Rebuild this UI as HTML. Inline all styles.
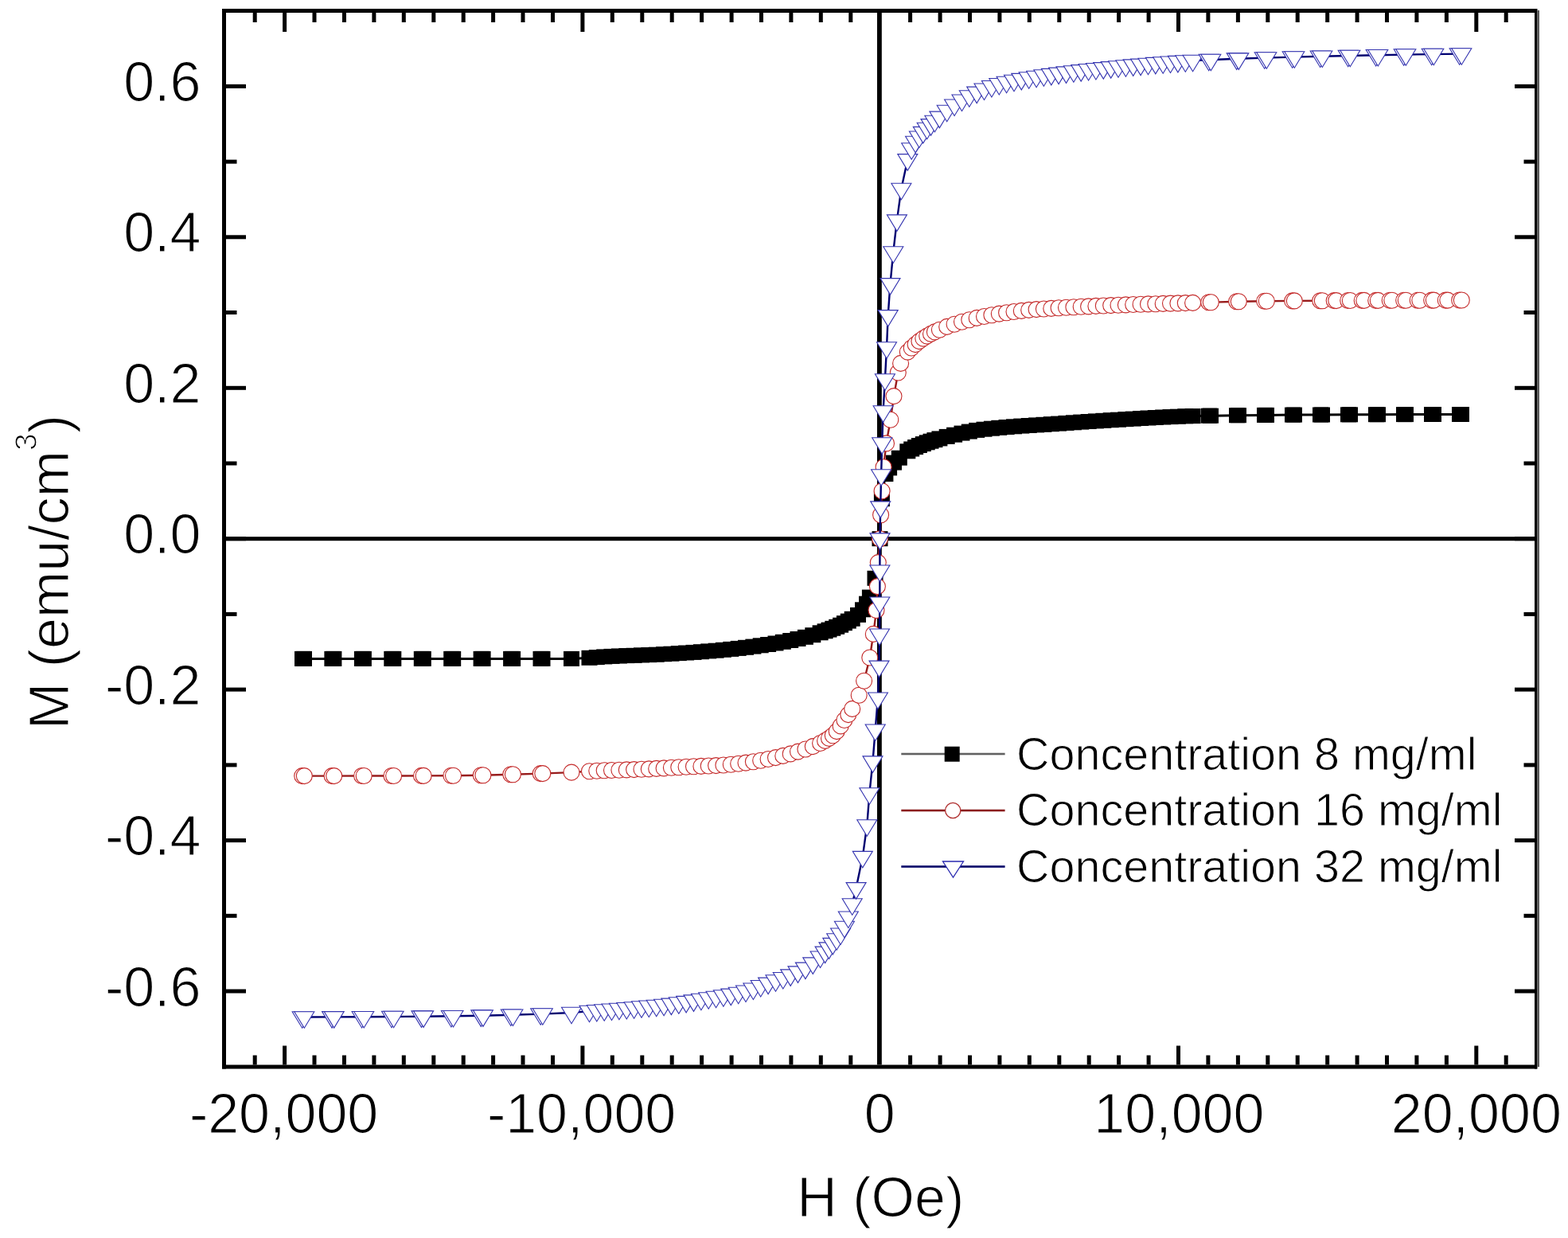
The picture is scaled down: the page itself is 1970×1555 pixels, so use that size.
<!DOCTYPE html>
<html><head><meta charset="utf-8"><style>html,body{margin:0;padding:0;background:#fff;overflow:hidden}svg{display:block}</style></head>
<body><svg width="1970" height="1555" viewBox="0 0 1970 1555">
<rect width="1970" height="1555" fill="#fff"/>
<rect x="284" y="674.2" width="1644" height="5" fill="#000"/>
<rect x="1102" y="16" width="5.8" height="1321.5" fill="#000"/>
<path d="M381.0,827.4 L418.4,827.4 L455.9,827.4 L493.3,827.4 L530.8,827.4 L568.2,827.4 L605.6,827.4 L643.1,827.4 L680.5,827.4 L718.0,827.4 L740.5,826.3 L749.8,825.6 L759.2,824.9 L768.5,824.4 L777.9,824.0 L787.3,823.6 L796.6,823.3 L806.0,822.9 L815.3,822.6 L824.7,822.2 L834.1,821.7 L843.4,821.2 L852.8,820.6 L862.1,820.0 L871.5,819.4 L880.9,818.7 L890.2,817.9 L899.6,817.2 L908.9,816.3 L918.3,815.4 L927.7,814.4 L937.0,813.3 L946.4,812.1 L955.7,810.8 L965.1,809.5 L974.5,808.0 L983.8,806.3 L993.2,804.5 L1002.5,802.5 L1011.9,800.3 L1021.3,797.7 L1030.6,794.8 L1036.6,792.8 L1041.5,791.1 L1046.3,789.3 L1051.2,787.3 L1056.1,785.2 L1060.9,782.7 L1065.8,780.1 L1070.7,777.3 L1078.0,772.4 L1084.0,765.8 L1089.0,758.2 L1092.9,750.1 L1099.5,726.3 L1105.5,676.7 L1107.9,626.7 L1112.4,595.5 L1117.1,587.9 L1123.0,581.1 L1129.8,575.2 L1140.3,566.8 L1145.2,564.0 L1150.1,561.6 L1154.9,559.5 L1159.8,557.6 L1164.7,555.8 L1169.5,554.2 L1174.4,552.6 L1180.4,550.9 L1189.7,548.4 L1199.1,546.2 L1208.5,544.1 L1217.8,542.1 L1227.2,540.4 L1236.5,539.2 L1245.9,538.2 L1255.3,537.3 L1264.6,536.5 L1274.0,535.8 L1283.3,535.1 L1292.7,534.5 L1302.1,533.9 L1311.4,533.3 L1320.8,532.7 L1330.1,532.1 L1339.5,531.4 L1348.9,530.8 L1358.2,530.1 L1367.6,529.5 L1376.9,528.9 L1386.3,528.3 L1395.7,527.7 L1405.0,527.2 L1414.4,526.6 L1423.7,526.1 L1433.1,525.5 L1442.5,525.0 L1451.8,524.5 L1461.2,524.0 L1470.5,523.6 L1479.9,523.2 L1489.3,522.8 L1498.6,522.6 L1520.0,522.2 L1555.0,521.7 L1590.0,521.4 L1625.0,521.1 L1660.0,521.0 L1695.0,520.8 L1730.0,520.7 L1765.0,520.6 L1800.0,520.5 L1835.0,520.5" fill="none" stroke="#000" stroke-width="3" stroke-linejoin="round"/>
<g fill="#000"><rect x="370.0" y="817.9" width="20" height="19"/><rect x="372.0" y="817.9" width="20" height="19"/><rect x="407.4" y="817.9" width="20" height="19"/><rect x="409.4" y="817.9" width="20" height="19"/><rect x="444.9" y="817.9" width="20" height="19"/><rect x="446.9" y="817.9" width="20" height="19"/><rect x="482.3" y="817.9" width="20" height="19"/><rect x="484.3" y="817.9" width="20" height="19"/><rect x="519.8" y="817.9" width="20" height="19"/><rect x="521.8" y="817.9" width="20" height="19"/><rect x="557.2" y="817.9" width="20" height="19"/><rect x="559.2" y="817.9" width="20" height="19"/><rect x="594.6" y="817.9" width="20" height="19"/><rect x="596.6" y="817.9" width="20" height="19"/><rect x="632.1" y="817.9" width="20" height="19"/><rect x="634.1" y="817.9" width="20" height="19"/><rect x="669.5" y="817.9" width="20" height="19"/><rect x="671.5" y="817.9" width="20" height="19"/><rect x="708.0" y="817.9" width="20" height="19"/><rect x="730.5" y="816.8" width="20" height="19"/><rect x="739.8" y="816.1" width="20" height="19"/><rect x="749.2" y="815.4" width="20" height="19"/><rect x="758.5" y="814.9" width="20" height="19"/><rect x="767.9" y="814.5" width="20" height="19"/><rect x="777.3" y="814.1" width="20" height="19"/><rect x="786.6" y="813.8" width="20" height="19"/><rect x="796.0" y="813.4" width="20" height="19"/><rect x="805.3" y="813.1" width="20" height="19"/><rect x="814.7" y="812.7" width="20" height="19"/><rect x="824.1" y="812.2" width="20" height="19"/><rect x="833.4" y="811.7" width="20" height="19"/><rect x="842.8" y="811.1" width="20" height="19"/><rect x="852.1" y="810.5" width="20" height="19"/><rect x="861.5" y="809.9" width="20" height="19"/><rect x="870.9" y="809.2" width="20" height="19"/><rect x="880.2" y="808.4" width="20" height="19"/><rect x="889.6" y="807.7" width="20" height="19"/><rect x="898.9" y="806.8" width="20" height="19"/><rect x="908.3" y="805.9" width="20" height="19"/><rect x="917.7" y="804.9" width="20" height="19"/><rect x="927.0" y="803.8" width="20" height="19"/><rect x="936.4" y="802.6" width="20" height="19"/><rect x="945.7" y="801.3" width="20" height="19"/><rect x="955.1" y="800.0" width="20" height="19"/><rect x="964.5" y="798.5" width="20" height="19"/><rect x="973.8" y="796.8" width="20" height="19"/><rect x="983.2" y="795.0" width="20" height="19"/><rect x="992.5" y="793.0" width="20" height="19"/><rect x="1001.9" y="790.8" width="20" height="19"/><rect x="1011.3" y="788.2" width="20" height="19"/><rect x="1020.6" y="785.3" width="20" height="19"/><rect x="1026.6" y="783.3" width="20" height="19"/><rect x="1031.5" y="781.6" width="20" height="19"/><rect x="1036.3" y="779.8" width="20" height="19"/><rect x="1041.2" y="777.8" width="20" height="19"/><rect x="1046.1" y="775.7" width="20" height="19"/><rect x="1050.9" y="773.2" width="20" height="19"/><rect x="1055.8" y="770.6" width="20" height="19"/><rect x="1060.7" y="767.8" width="20" height="19"/><rect x="1068.0" y="762.9" width="20" height="19"/><rect x="1074.0" y="756.3" width="20" height="19"/><rect x="1079.0" y="748.7" width="20" height="19"/><rect x="1082.9" y="740.6" width="20" height="19"/><rect x="1089.5" y="716.8" width="20" height="19"/><rect x="1095.5" y="667.2" width="20" height="19"/><rect x="1097.9" y="617.2" width="20" height="19"/><rect x="1102.4" y="586.0" width="20" height="19"/><rect x="1107.1" y="578.4" width="20" height="19"/><rect x="1113.0" y="571.6" width="20" height="19"/><rect x="1119.8" y="565.7" width="20" height="19"/><rect x="1130.3" y="557.3" width="20" height="19"/><rect x="1135.2" y="554.5" width="20" height="19"/><rect x="1140.1" y="552.1" width="20" height="19"/><rect x="1144.9" y="550.0" width="20" height="19"/><rect x="1149.8" y="548.1" width="20" height="19"/><rect x="1154.7" y="546.3" width="20" height="19"/><rect x="1159.5" y="544.7" width="20" height="19"/><rect x="1164.4" y="543.1" width="20" height="19"/><rect x="1170.4" y="541.4" width="20" height="19"/><rect x="1179.7" y="538.9" width="20" height="19"/><rect x="1189.1" y="536.7" width="20" height="19"/><rect x="1198.5" y="534.6" width="20" height="19"/><rect x="1207.8" y="532.6" width="20" height="19"/><rect x="1217.2" y="530.9" width="20" height="19"/><rect x="1226.5" y="529.7" width="20" height="19"/><rect x="1235.9" y="528.7" width="20" height="19"/><rect x="1245.3" y="527.8" width="20" height="19"/><rect x="1254.6" y="527.0" width="20" height="19"/><rect x="1264.0" y="526.3" width="20" height="19"/><rect x="1273.3" y="525.6" width="20" height="19"/><rect x="1282.7" y="525.0" width="20" height="19"/><rect x="1292.1" y="524.4" width="20" height="19"/><rect x="1301.4" y="523.8" width="20" height="19"/><rect x="1310.8" y="523.2" width="20" height="19"/><rect x="1320.1" y="522.6" width="20" height="19"/><rect x="1329.5" y="521.9" width="20" height="19"/><rect x="1338.9" y="521.3" width="20" height="19"/><rect x="1348.2" y="520.6" width="20" height="19"/><rect x="1357.6" y="520.0" width="20" height="19"/><rect x="1366.9" y="519.4" width="20" height="19"/><rect x="1376.3" y="518.8" width="20" height="19"/><rect x="1385.7" y="518.2" width="20" height="19"/><rect x="1395.0" y="517.7" width="20" height="19"/><rect x="1404.4" y="517.1" width="20" height="19"/><rect x="1413.7" y="516.6" width="20" height="19"/><rect x="1423.1" y="516.0" width="20" height="19"/><rect x="1432.5" y="515.5" width="20" height="19"/><rect x="1441.8" y="515.0" width="20" height="19"/><rect x="1451.2" y="514.5" width="20" height="19"/><rect x="1460.5" y="514.1" width="20" height="19"/><rect x="1469.9" y="513.7" width="20" height="19"/><rect x="1479.3" y="513.3" width="20" height="19"/><rect x="1488.6" y="513.1" width="20" height="19"/><rect x="1509.0" y="512.7" width="20" height="19"/><rect x="1511.0" y="512.7" width="20" height="19"/><rect x="1544.0" y="512.2" width="20" height="19"/><rect x="1546.0" y="512.2" width="20" height="19"/><rect x="1579.0" y="511.9" width="20" height="19"/><rect x="1581.0" y="511.9" width="20" height="19"/><rect x="1614.0" y="511.6" width="20" height="19"/><rect x="1616.0" y="511.6" width="20" height="19"/><rect x="1649.0" y="511.5" width="20" height="19"/><rect x="1651.0" y="511.5" width="20" height="19"/><rect x="1684.0" y="511.3" width="20" height="19"/><rect x="1686.0" y="511.3" width="20" height="19"/><rect x="1719.0" y="511.2" width="20" height="19"/><rect x="1721.0" y="511.2" width="20" height="19"/><rect x="1754.0" y="511.1" width="20" height="19"/><rect x="1756.0" y="511.1" width="20" height="19"/><rect x="1789.0" y="511.0" width="20" height="19"/><rect x="1791.0" y="511.0" width="20" height="19"/><rect x="1824.0" y="511.0" width="20" height="19"/><rect x="1826.0" y="511.0" width="20" height="19"/></g>
<path d="M381.0,974.6 L418.4,974.6 L455.9,974.5 L493.3,974.5 L530.8,974.4 L568.2,974.2 L605.6,973.7 L643.1,972.7 L680.5,971.6 L718.0,970.1 L740.5,968.8 L749.8,968.3 L759.2,967.8 L768.5,967.5 L777.9,967.2 L787.3,966.9 L796.6,966.6 L806.0,966.3 L815.3,965.9 L824.7,965.4 L834.1,964.9 L843.4,964.3 L852.8,963.7 L862.1,963.2 L871.5,962.8 L880.9,962.4 L890.2,962.0 L899.6,961.6 L908.9,961.0 L918.3,960.3 L927.7,959.3 L937.0,958.1 L946.4,956.7 L955.7,955.2 L965.1,953.5 L974.5,951.6 L983.8,949.4 L993.2,946.9 L1002.5,944.1 L1011.9,941.0 L1021.3,937.6 L1030.6,933.5 L1036.6,930.4 L1041.5,927.4 L1046.3,923.7 L1051.2,918.6 L1056.1,911.9 L1060.9,904.5 L1065.8,897.6 L1070.7,890.4 L1079.2,873.3 L1085.6,855.2 L1092.8,826.0 L1097.3,796.4 L1101.0,766.6 L1102.4,736.6 L1103.3,706.6 L1105.5,676.7 L1106.6,646.7 L1108.1,616.7 L1110.1,586.7 L1113.5,556.9 L1118.8,527.3 L1123.0,497.6 L1128.3,468.0 L1131.6,456.4 L1140.3,442.1 L1145.2,437.0 L1150.1,432.6 L1154.9,428.6 L1159.8,425.1 L1164.7,422.1 L1169.5,419.4 L1174.4,416.9 L1180.4,414.2 L1189.7,410.4 L1199.1,407.2 L1208.5,404.2 L1217.8,401.7 L1227.2,399.4 L1236.5,397.5 L1245.9,395.7 L1255.3,394.1 L1264.6,392.7 L1274.0,391.5 L1283.3,390.4 L1292.7,389.4 L1302.1,388.6 L1311.4,388.0 L1320.8,387.4 L1330.1,386.8 L1339.5,386.3 L1348.9,385.8 L1358.2,385.3 L1367.6,384.9 L1376.9,384.4 L1386.3,384.0 L1395.7,383.6 L1405.0,383.2 L1414.4,382.9 L1423.7,382.5 L1433.1,382.2 L1442.5,381.9 L1451.8,381.7 L1461.2,381.4 L1470.5,381.1 L1479.9,380.9 L1489.3,380.6 L1498.6,380.4 L1520.0,379.7 L1555.0,378.7 L1590.0,378.2 L1625.0,377.9 L1660.0,377.7 L1677.5,377.6 L1695.0,377.5 L1712.5,377.4 L1730.0,377.4 L1747.5,377.3 L1765.0,377.2 L1782.5,377.2 L1800.0,377.1 L1817.5,377.1 L1835.0,377.0" fill="none" stroke="#981c1c" stroke-width="2.4" stroke-linejoin="round"/>
<g fill="#fff" stroke="#c42a2a" stroke-width="1.1"><circle cx="379.7" cy="974.6" r="10"/><circle cx="382.3" cy="974.6" r="10"/><circle cx="417.1" cy="974.6" r="10"/><circle cx="419.7" cy="974.6" r="10"/><circle cx="454.6" cy="974.5" r="10"/><circle cx="457.2" cy="974.5" r="10"/><circle cx="492.0" cy="974.5" r="10"/><circle cx="494.6" cy="974.5" r="10"/><circle cx="529.5" cy="974.4" r="10"/><circle cx="532.1" cy="974.4" r="10"/><circle cx="566.9" cy="974.2" r="10"/><circle cx="569.5" cy="974.2" r="10"/><circle cx="604.3" cy="973.7" r="10"/><circle cx="606.9" cy="973.7" r="10"/><circle cx="641.8" cy="972.7" r="10"/><circle cx="644.4" cy="972.7" r="10"/><circle cx="679.2" cy="971.6" r="10"/><circle cx="681.8" cy="971.6" r="10"/><circle cx="718.0" cy="970.1" r="10"/><circle cx="740.5" cy="968.8" r="10"/><circle cx="749.8" cy="968.3" r="10"/><circle cx="759.2" cy="967.8" r="10"/><circle cx="768.5" cy="967.5" r="10"/><circle cx="777.9" cy="967.2" r="10"/><circle cx="787.3" cy="966.9" r="10"/><circle cx="796.6" cy="966.6" r="10"/><circle cx="806.0" cy="966.3" r="10"/><circle cx="815.3" cy="965.9" r="10"/><circle cx="824.7" cy="965.4" r="10"/><circle cx="834.1" cy="964.9" r="10"/><circle cx="843.4" cy="964.3" r="10"/><circle cx="852.8" cy="963.7" r="10"/><circle cx="862.1" cy="963.2" r="10"/><circle cx="871.5" cy="962.8" r="10"/><circle cx="880.9" cy="962.4" r="10"/><circle cx="890.2" cy="962.0" r="10"/><circle cx="899.6" cy="961.6" r="10"/><circle cx="908.9" cy="961.0" r="10"/><circle cx="918.3" cy="960.3" r="10"/><circle cx="927.7" cy="959.3" r="10"/><circle cx="937.0" cy="958.1" r="10"/><circle cx="946.4" cy="956.7" r="10"/><circle cx="955.7" cy="955.2" r="10"/><circle cx="965.1" cy="953.5" r="10"/><circle cx="974.5" cy="951.6" r="10"/><circle cx="983.8" cy="949.4" r="10"/><circle cx="993.2" cy="946.9" r="10"/><circle cx="1002.5" cy="944.1" r="10"/><circle cx="1011.9" cy="941.0" r="10"/><circle cx="1021.3" cy="937.6" r="10"/><circle cx="1030.6" cy="933.5" r="10"/><circle cx="1036.6" cy="930.4" r="10"/><circle cx="1041.5" cy="927.4" r="10"/><circle cx="1046.3" cy="923.7" r="10"/><circle cx="1051.2" cy="918.6" r="10"/><circle cx="1056.1" cy="911.9" r="10"/><circle cx="1060.9" cy="904.5" r="10"/><circle cx="1065.8" cy="897.6" r="10"/><circle cx="1070.7" cy="890.4" r="10"/><circle cx="1079.2" cy="873.3" r="10"/><circle cx="1085.6" cy="855.2" r="10"/><circle cx="1092.8" cy="826.0" r="10"/><circle cx="1097.3" cy="796.4" r="10"/><circle cx="1101.0" cy="766.6" r="10"/><circle cx="1102.4" cy="736.6" r="10"/><circle cx="1103.3" cy="706.6" r="10"/><circle cx="1105.5" cy="676.7" r="10"/><circle cx="1106.6" cy="646.7" r="10"/><circle cx="1108.1" cy="616.7" r="10"/><circle cx="1110.1" cy="586.7" r="10"/><circle cx="1113.5" cy="556.9" r="10"/><circle cx="1118.8" cy="527.3" r="10"/><circle cx="1123.0" cy="497.6" r="10"/><circle cx="1128.3" cy="468.0" r="10"/><circle cx="1131.6" cy="456.4" r="10"/><circle cx="1140.3" cy="442.1" r="10"/><circle cx="1145.2" cy="437.0" r="10"/><circle cx="1150.1" cy="432.6" r="10"/><circle cx="1154.9" cy="428.6" r="10"/><circle cx="1159.8" cy="425.1" r="10"/><circle cx="1164.7" cy="422.1" r="10"/><circle cx="1169.5" cy="419.4" r="10"/><circle cx="1174.4" cy="416.9" r="10"/><circle cx="1180.4" cy="414.2" r="10"/><circle cx="1189.7" cy="410.4" r="10"/><circle cx="1199.1" cy="407.2" r="10"/><circle cx="1208.5" cy="404.2" r="10"/><circle cx="1217.8" cy="401.7" r="10"/><circle cx="1227.2" cy="399.4" r="10"/><circle cx="1236.5" cy="397.5" r="10"/><circle cx="1245.9" cy="395.7" r="10"/><circle cx="1255.3" cy="394.1" r="10"/><circle cx="1264.6" cy="392.7" r="10"/><circle cx="1274.0" cy="391.5" r="10"/><circle cx="1283.3" cy="390.4" r="10"/><circle cx="1292.7" cy="389.4" r="10"/><circle cx="1302.1" cy="388.6" r="10"/><circle cx="1311.4" cy="388.0" r="10"/><circle cx="1320.8" cy="387.4" r="10"/><circle cx="1330.1" cy="386.8" r="10"/><circle cx="1339.5" cy="386.3" r="10"/><circle cx="1348.9" cy="385.8" r="10"/><circle cx="1358.2" cy="385.3" r="10"/><circle cx="1367.6" cy="384.9" r="10"/><circle cx="1376.9" cy="384.4" r="10"/><circle cx="1386.3" cy="384.0" r="10"/><circle cx="1395.7" cy="383.6" r="10"/><circle cx="1405.0" cy="383.2" r="10"/><circle cx="1414.4" cy="382.9" r="10"/><circle cx="1423.7" cy="382.5" r="10"/><circle cx="1433.1" cy="382.2" r="10"/><circle cx="1442.5" cy="381.9" r="10"/><circle cx="1451.8" cy="381.7" r="10"/><circle cx="1461.2" cy="381.4" r="10"/><circle cx="1470.5" cy="381.1" r="10"/><circle cx="1479.9" cy="380.9" r="10"/><circle cx="1489.3" cy="380.6" r="10"/><circle cx="1498.6" cy="380.4" r="10"/><circle cx="1518.7" cy="379.7" r="10"/><circle cx="1521.3" cy="379.7" r="10"/><circle cx="1553.7" cy="378.7" r="10"/><circle cx="1556.3" cy="378.7" r="10"/><circle cx="1588.7" cy="378.2" r="10"/><circle cx="1591.3" cy="378.2" r="10"/><circle cx="1623.7" cy="377.9" r="10"/><circle cx="1626.3" cy="377.9" r="10"/><circle cx="1658.7" cy="377.7" r="10"/><circle cx="1661.3" cy="377.7" r="10"/><circle cx="1676.2" cy="377.6" r="10"/><circle cx="1678.8" cy="377.6" r="10"/><circle cx="1693.7" cy="377.5" r="10"/><circle cx="1696.3" cy="377.5" r="10"/><circle cx="1711.2" cy="377.4" r="10"/><circle cx="1713.8" cy="377.4" r="10"/><circle cx="1728.7" cy="377.4" r="10"/><circle cx="1731.3" cy="377.4" r="10"/><circle cx="1746.2" cy="377.3" r="10"/><circle cx="1748.8" cy="377.3" r="10"/><circle cx="1763.7" cy="377.2" r="10"/><circle cx="1766.3" cy="377.2" r="10"/><circle cx="1781.2" cy="377.2" r="10"/><circle cx="1783.8" cy="377.2" r="10"/><circle cx="1798.7" cy="377.1" r="10"/><circle cx="1801.3" cy="377.1" r="10"/><circle cx="1816.2" cy="377.1" r="10"/><circle cx="1818.8" cy="377.1" r="10"/><circle cx="1833.7" cy="377.0" r="10"/><circle cx="1836.3" cy="377.0" r="10"/></g>
<path d="M381.0,1277.5 L418.4,1277.4 L455.9,1277.3 L493.3,1277.0 L530.8,1276.7 L568.2,1276.3 L605.6,1275.7 L643.1,1274.8 L680.5,1273.6 L718.0,1272.0 L740.5,1270.1 L749.8,1269.3 L759.2,1268.5 L768.5,1267.8 L777.9,1267.0 L787.3,1266.3 L796.6,1265.5 L806.0,1264.6 L815.3,1263.8 L824.7,1263.0 L834.1,1262.0 L843.4,1260.9 L852.8,1259.6 L862.1,1258.2 L871.5,1256.7 L880.9,1255.1 L890.2,1253.6 L899.6,1252.1 L908.9,1250.6 L918.3,1248.9 L927.7,1247.1 L937.0,1244.8 L946.4,1241.8 L955.7,1238.3 L965.1,1234.9 L974.5,1231.6 L983.8,1228.3 L993.2,1224.7 L1002.5,1220.7 L1011.9,1215.9 L1021.3,1209.7 L1030.6,1201.8 L1036.6,1195.9 L1041.5,1190.7 L1046.3,1185.2 L1051.2,1179.5 L1056.1,1172.8 L1060.9,1164.1 L1065.8,1151.8 L1070.7,1135.5 L1075.6,1115.4 L1083.8,1076.2 L1089.3,1036.5 L1092.4,996.5 L1096.5,956.7 L1099.7,916.8 L1102.9,876.8 L1104.5,836.9 L1105.0,796.8 L1105.3,756.8 L1105.4,716.8 L1105.5,676.7 L1106.2,636.7 L1107.1,596.6 L1108.2,556.6 L1109.6,516.6 L1111.9,476.6 L1114.0,436.6 L1115.7,396.4 L1118.5,356.4 L1122.3,316.6 L1126.9,276.7 L1132.4,237.0 L1140.3,200.4 L1145.2,186.6 L1150.1,178.1 L1154.9,171.8 L1159.8,166.2 L1164.7,161.1 L1169.5,156.4 L1174.4,152.1 L1180.4,146.9 L1189.7,139.0 L1199.1,131.8 L1208.5,125.8 L1217.8,120.6 L1227.2,115.9 L1236.5,111.8 L1245.9,108.3 L1255.3,105.3 L1264.6,103.0 L1274.0,101.0 L1283.3,99.2 L1292.7,97.6 L1302.1,96.0 L1311.4,94.6 L1320.8,93.2 L1330.1,91.9 L1339.5,90.7 L1348.9,89.5 L1358.2,88.4 L1367.6,87.3 L1376.9,86.3 L1386.3,85.4 L1395.7,84.4 L1405.0,83.5 L1414.4,82.6 L1423.7,81.7 L1433.1,80.9 L1442.5,80.0 L1451.8,79.2 L1461.2,78.5 L1470.5,77.8 L1479.9,77.2 L1489.3,76.6 L1498.6,76.1 L1520.0,75.1 L1555.0,73.7 L1590.0,72.6 L1625.0,71.6 L1660.0,70.8 L1695.0,70.0 L1730.0,69.3 L1765.0,68.6 L1800.0,68.1 L1835.0,67.6" fill="none" stroke="#000070" stroke-width="2.4" stroke-linejoin="round"/>
<g fill="#fff" stroke="#3434b0" stroke-width="1.1"><path d="M367.2,1270.7h25l-12.5,20.5z"/><path d="M369.8,1270.7h25l-12.5,20.5z"/><path d="M404.6,1270.6h25l-12.5,20.5z"/><path d="M407.2,1270.6h25l-12.5,20.5z"/><path d="M442.1,1270.5h25l-12.5,20.5z"/><path d="M444.7,1270.5h25l-12.5,20.5z"/><path d="M479.5,1270.2h25l-12.5,20.5z"/><path d="M482.1,1270.2h25l-12.5,20.5z"/><path d="M517.0,1269.9h25l-12.5,20.5z"/><path d="M519.6,1269.9h25l-12.5,20.5z"/><path d="M554.4,1269.5h25l-12.5,20.5z"/><path d="M557.0,1269.5h25l-12.5,20.5z"/><path d="M591.8,1268.9h25l-12.5,20.5z"/><path d="M594.4,1268.9h25l-12.5,20.5z"/><path d="M629.3,1268.0h25l-12.5,20.5z"/><path d="M631.9,1268.0h25l-12.5,20.5z"/><path d="M666.7,1266.8h25l-12.5,20.5z"/><path d="M669.3,1266.8h25l-12.5,20.5z"/><path d="M705.5,1265.2h25l-12.5,20.5z"/><path d="M728.0,1263.3h25l-12.5,20.5z"/><path d="M737.3,1262.5h25l-12.5,20.5z"/><path d="M746.7,1261.7h25l-12.5,20.5z"/><path d="M756.0,1261.0h25l-12.5,20.5z"/><path d="M765.4,1260.2h25l-12.5,20.5z"/><path d="M774.8,1259.5h25l-12.5,20.5z"/><path d="M784.1,1258.7h25l-12.5,20.5z"/><path d="M793.5,1257.8h25l-12.5,20.5z"/><path d="M802.8,1257.0h25l-12.5,20.5z"/><path d="M812.2,1256.2h25l-12.5,20.5z"/><path d="M821.6,1255.2h25l-12.5,20.5z"/><path d="M830.9,1254.1h25l-12.5,20.5z"/><path d="M840.3,1252.8h25l-12.5,20.5z"/><path d="M849.6,1251.4h25l-12.5,20.5z"/><path d="M859.0,1249.9h25l-12.5,20.5z"/><path d="M868.4,1248.3h25l-12.5,20.5z"/><path d="M877.7,1246.8h25l-12.5,20.5z"/><path d="M887.1,1245.3h25l-12.5,20.5z"/><path d="M896.4,1243.8h25l-12.5,20.5z"/><path d="M905.8,1242.1h25l-12.5,20.5z"/><path d="M915.2,1240.3h25l-12.5,20.5z"/><path d="M924.5,1238.0h25l-12.5,20.5z"/><path d="M933.9,1235.0h25l-12.5,20.5z"/><path d="M943.2,1231.5h25l-12.5,20.5z"/><path d="M952.6,1228.1h25l-12.5,20.5z"/><path d="M962.0,1224.8h25l-12.5,20.5z"/><path d="M971.3,1221.5h25l-12.5,20.5z"/><path d="M980.7,1217.9h25l-12.5,20.5z"/><path d="M990.0,1213.9h25l-12.5,20.5z"/><path d="M999.4,1209.1h25l-12.5,20.5z"/><path d="M1008.8,1202.9h25l-12.5,20.5z"/><path d="M1018.1,1195.0h25l-12.5,20.5z"/><path d="M1024.1,1189.1h25l-12.5,20.5z"/><path d="M1029.0,1183.9h25l-12.5,20.5z"/><path d="M1033.8,1178.4h25l-12.5,20.5z"/><path d="M1038.7,1172.7h25l-12.5,20.5z"/><path d="M1043.6,1166.0h25l-12.5,20.5z"/><path d="M1048.4,1157.3h25l-12.5,20.5z"/><path d="M1053.3,1145.0h25l-12.5,20.5z"/><path d="M1058.2,1128.7h25l-12.5,20.5z"/><path d="M1063.1,1108.6h25l-12.5,20.5z"/><path d="M1071.3,1069.4h25l-12.5,20.5z"/><path d="M1076.8,1029.7h25l-12.5,20.5z"/><path d="M1079.9,989.7h25l-12.5,20.5z"/><path d="M1084.0,949.9h25l-12.5,20.5z"/><path d="M1087.2,910.0h25l-12.5,20.5z"/><path d="M1090.4,870.0h25l-12.5,20.5z"/><path d="M1092.0,830.1h25l-12.5,20.5z"/><path d="M1092.5,790.0h25l-12.5,20.5z"/><path d="M1092.8,750.0h25l-12.5,20.5z"/><path d="M1092.9,710.0h25l-12.5,20.5z"/><path d="M1093.0,669.9h25l-12.5,20.5z"/><path d="M1093.7,629.9h25l-12.5,20.5z"/><path d="M1094.6,589.8h25l-12.5,20.5z"/><path d="M1095.7,549.8h25l-12.5,20.5z"/><path d="M1097.1,509.8h25l-12.5,20.5z"/><path d="M1099.4,469.8h25l-12.5,20.5z"/><path d="M1101.5,429.8h25l-12.5,20.5z"/><path d="M1103.2,389.6h25l-12.5,20.5z"/><path d="M1106.0,349.6h25l-12.5,20.5z"/><path d="M1109.8,309.8h25l-12.5,20.5z"/><path d="M1114.4,269.9h25l-12.5,20.5z"/><path d="M1119.9,230.2h25l-12.5,20.5z"/><path d="M1127.8,193.6h25l-12.5,20.5z"/><path d="M1132.7,179.8h25l-12.5,20.5z"/><path d="M1137.6,171.3h25l-12.5,20.5z"/><path d="M1142.4,165.0h25l-12.5,20.5z"/><path d="M1147.3,159.4h25l-12.5,20.5z"/><path d="M1152.2,154.3h25l-12.5,20.5z"/><path d="M1157.0,149.6h25l-12.5,20.5z"/><path d="M1161.9,145.3h25l-12.5,20.5z"/><path d="M1167.9,140.1h25l-12.5,20.5z"/><path d="M1177.2,132.2h25l-12.5,20.5z"/><path d="M1186.6,125.0h25l-12.5,20.5z"/><path d="M1196.0,119.0h25l-12.5,20.5z"/><path d="M1205.3,113.8h25l-12.5,20.5z"/><path d="M1214.7,109.1h25l-12.5,20.5z"/><path d="M1224.0,105.0h25l-12.5,20.5z"/><path d="M1233.4,101.5h25l-12.5,20.5z"/><path d="M1242.8,98.5h25l-12.5,20.5z"/><path d="M1252.1,96.2h25l-12.5,20.5z"/><path d="M1261.5,94.2h25l-12.5,20.5z"/><path d="M1270.8,92.4h25l-12.5,20.5z"/><path d="M1280.2,90.8h25l-12.5,20.5z"/><path d="M1289.6,89.2h25l-12.5,20.5z"/><path d="M1298.9,87.8h25l-12.5,20.5z"/><path d="M1308.3,86.4h25l-12.5,20.5z"/><path d="M1317.6,85.1h25l-12.5,20.5z"/><path d="M1327.0,83.9h25l-12.5,20.5z"/><path d="M1336.4,82.7h25l-12.5,20.5z"/><path d="M1345.7,81.6h25l-12.5,20.5z"/><path d="M1355.1,80.5h25l-12.5,20.5z"/><path d="M1364.4,79.5h25l-12.5,20.5z"/><path d="M1373.8,78.6h25l-12.5,20.5z"/><path d="M1383.2,77.6h25l-12.5,20.5z"/><path d="M1392.5,76.7h25l-12.5,20.5z"/><path d="M1401.9,75.8h25l-12.5,20.5z"/><path d="M1411.2,74.9h25l-12.5,20.5z"/><path d="M1420.6,74.1h25l-12.5,20.5z"/><path d="M1430.0,73.2h25l-12.5,20.5z"/><path d="M1439.3,72.4h25l-12.5,20.5z"/><path d="M1448.7,71.7h25l-12.5,20.5z"/><path d="M1458.0,71.0h25l-12.5,20.5z"/><path d="M1467.4,70.4h25l-12.5,20.5z"/><path d="M1476.8,69.8h25l-12.5,20.5z"/><path d="M1486.1,69.3h25l-12.5,20.5z"/><path d="M1506.2,68.3h25l-12.5,20.5z"/><path d="M1508.8,68.3h25l-12.5,20.5z"/><path d="M1541.2,66.9h25l-12.5,20.5z"/><path d="M1543.8,66.9h25l-12.5,20.5z"/><path d="M1576.2,65.8h25l-12.5,20.5z"/><path d="M1578.8,65.8h25l-12.5,20.5z"/><path d="M1611.2,64.8h25l-12.5,20.5z"/><path d="M1613.8,64.8h25l-12.5,20.5z"/><path d="M1646.2,64.0h25l-12.5,20.5z"/><path d="M1648.8,64.0h25l-12.5,20.5z"/><path d="M1681.2,63.2h25l-12.5,20.5z"/><path d="M1683.8,63.2h25l-12.5,20.5z"/><path d="M1716.2,62.5h25l-12.5,20.5z"/><path d="M1718.8,62.5h25l-12.5,20.5z"/><path d="M1751.2,61.8h25l-12.5,20.5z"/><path d="M1753.8,61.8h25l-12.5,20.5z"/><path d="M1786.2,61.3h25l-12.5,20.5z"/><path d="M1788.8,61.3h25l-12.5,20.5z"/><path d="M1821.2,60.8h25l-12.5,20.5z"/><path d="M1823.8,60.8h25l-12.5,20.5z"/></g>
<g fill="#000">
<rect x="279" y="11" width="5" height="1331.5"/>
<rect x="279" y="11" width="1652" height="5"/>
<rect x="279" y="1337.5" width="1652" height="5"/>
<rect x="1928" y="11" width="3.5" height="1331.5"/>
</g>
<rect x="1931.5" y="13" width="2.5" height="1327" fill="#585858"/>
<g fill="#000">
<rect x="317.7" y="16" width="5" height="12"/>
<rect x="317.7" y="1325.5" width="5" height="12"/>
<rect x="355.1" y="16" width="5" height="24"/>
<rect x="355.1" y="1313.5" width="5" height="24"/>
<rect x="392.5" y="16" width="5" height="12"/>
<rect x="392.5" y="1325.5" width="5" height="12"/>
<rect x="430.0" y="16" width="5" height="12"/>
<rect x="430.0" y="1325.5" width="5" height="12"/>
<rect x="467.4" y="16" width="5" height="12"/>
<rect x="467.4" y="1325.5" width="5" height="12"/>
<rect x="504.8" y="16" width="5" height="12"/>
<rect x="504.8" y="1325.5" width="5" height="12"/>
<rect x="542.3" y="16" width="5" height="12"/>
<rect x="542.3" y="1325.5" width="5" height="12"/>
<rect x="579.7" y="16" width="5" height="12"/>
<rect x="579.7" y="1325.5" width="5" height="12"/>
<rect x="617.1" y="16" width="5" height="12"/>
<rect x="617.1" y="1325.5" width="5" height="12"/>
<rect x="654.5" y="16" width="5" height="12"/>
<rect x="654.5" y="1325.5" width="5" height="12"/>
<rect x="692.0" y="16" width="5" height="12"/>
<rect x="692.0" y="1325.5" width="5" height="12"/>
<rect x="729.4" y="16" width="5" height="24"/>
<rect x="729.4" y="1313.5" width="5" height="24"/>
<rect x="766.8" y="16" width="5" height="12"/>
<rect x="766.8" y="1325.5" width="5" height="12"/>
<rect x="804.3" y="16" width="5" height="12"/>
<rect x="804.3" y="1325.5" width="5" height="12"/>
<rect x="841.7" y="16" width="5" height="12"/>
<rect x="841.7" y="1325.5" width="5" height="12"/>
<rect x="879.1" y="16" width="5" height="12"/>
<rect x="879.1" y="1325.5" width="5" height="12"/>
<rect x="916.6" y="16" width="5" height="12"/>
<rect x="916.6" y="1325.5" width="5" height="12"/>
<rect x="954.0" y="16" width="5" height="12"/>
<rect x="954.0" y="1325.5" width="5" height="12"/>
<rect x="991.4" y="16" width="5" height="12"/>
<rect x="991.4" y="1325.5" width="5" height="12"/>
<rect x="1028.8" y="16" width="5" height="12"/>
<rect x="1028.8" y="1325.5" width="5" height="12"/>
<rect x="1066.3" y="16" width="5" height="12"/>
<rect x="1066.3" y="1325.5" width="5" height="12"/>
<rect x="1141.1" y="16" width="5" height="12"/>
<rect x="1141.1" y="1325.5" width="5" height="12"/>
<rect x="1178.6" y="16" width="5" height="12"/>
<rect x="1178.6" y="1325.5" width="5" height="12"/>
<rect x="1216.0" y="16" width="5" height="12"/>
<rect x="1216.0" y="1325.5" width="5" height="12"/>
<rect x="1253.4" y="16" width="5" height="12"/>
<rect x="1253.4" y="1325.5" width="5" height="12"/>
<rect x="1290.8" y="16" width="5" height="12"/>
<rect x="1290.8" y="1325.5" width="5" height="12"/>
<rect x="1328.3" y="16" width="5" height="12"/>
<rect x="1328.3" y="1325.5" width="5" height="12"/>
<rect x="1365.7" y="16" width="5" height="12"/>
<rect x="1365.7" y="1325.5" width="5" height="12"/>
<rect x="1403.1" y="16" width="5" height="12"/>
<rect x="1403.1" y="1325.5" width="5" height="12"/>
<rect x="1440.6" y="16" width="5" height="12"/>
<rect x="1440.6" y="1325.5" width="5" height="12"/>
<rect x="1478.0" y="16" width="5" height="24"/>
<rect x="1478.0" y="1313.5" width="5" height="24"/>
<rect x="1515.4" y="16" width="5" height="12"/>
<rect x="1515.4" y="1325.5" width="5" height="12"/>
<rect x="1552.9" y="16" width="5" height="12"/>
<rect x="1552.9" y="1325.5" width="5" height="12"/>
<rect x="1590.3" y="16" width="5" height="12"/>
<rect x="1590.3" y="1325.5" width="5" height="12"/>
<rect x="1627.7" y="16" width="5" height="12"/>
<rect x="1627.7" y="1325.5" width="5" height="12"/>
<rect x="1665.2" y="16" width="5" height="12"/>
<rect x="1665.2" y="1325.5" width="5" height="12"/>
<rect x="1702.6" y="16" width="5" height="12"/>
<rect x="1702.6" y="1325.5" width="5" height="12"/>
<rect x="1740.0" y="16" width="5" height="12"/>
<rect x="1740.0" y="1325.5" width="5" height="12"/>
<rect x="1777.4" y="16" width="5" height="12"/>
<rect x="1777.4" y="1325.5" width="5" height="12"/>
<rect x="1814.9" y="16" width="5" height="12"/>
<rect x="1814.9" y="1325.5" width="5" height="12"/>
<rect x="1852.3" y="16" width="5" height="24"/>
<rect x="1852.3" y="1313.5" width="5" height="24"/>
<rect x="1889.7" y="16" width="5" height="12"/>
<rect x="1889.7" y="1325.5" width="5" height="12"/>
<rect x="284" y="1242.5" width="25" height="5"/>
<rect x="1903.0" y="1242.5" width="25" height="5"/>
<rect x="284" y="1147.8" width="13.5" height="5"/>
<rect x="1914.5" y="1147.8" width="13.5" height="5"/>
<rect x="284" y="1053.1" width="25" height="5"/>
<rect x="1903.0" y="1053.1" width="25" height="5"/>
<rect x="284" y="958.4" width="13.5" height="5"/>
<rect x="1914.5" y="958.4" width="13.5" height="5"/>
<rect x="284" y="863.6" width="25" height="5"/>
<rect x="1903.0" y="863.6" width="25" height="5"/>
<rect x="284" y="768.9" width="13.5" height="5"/>
<rect x="1914.5" y="768.9" width="13.5" height="5"/>
<rect x="284" y="674.2" width="25" height="5"/>
<rect x="1903.0" y="674.2" width="25" height="5"/>
<rect x="284" y="579.5" width="13.5" height="5"/>
<rect x="1914.5" y="579.5" width="13.5" height="5"/>
<rect x="284" y="484.8" width="25" height="5"/>
<rect x="1903.0" y="484.8" width="25" height="5"/>
<rect x="284" y="390.0" width="13.5" height="5"/>
<rect x="1914.5" y="390.0" width="13.5" height="5"/>
<rect x="284" y="295.3" width="25" height="5"/>
<rect x="1903.0" y="295.3" width="25" height="5"/>
<rect x="284" y="200.6" width="13.5" height="5"/>
<rect x="1914.5" y="200.6" width="13.5" height="5"/>
<rect x="284" y="105.9" width="25" height="5"/>
<rect x="1903.0" y="105.9" width="25" height="5"/>
</g>
<g font-family="'Liberation Sans', Arial, sans-serif" font-size="70" fill="#000" stroke="#fff" stroke-width="1.2">
<text x="252.5" y="1263.5" text-anchor="end">-0.6</text>
<text x="252.5" y="1074.1" text-anchor="end">-0.4</text>
<text x="252.5" y="884.6" text-anchor="end">-0.2</text>
<text x="252.5" y="695.2" text-anchor="end">0.0</text>
<text x="252.5" y="505.8" text-anchor="end">0.2</text>
<text x="252.5" y="316.3" text-anchor="end">0.4</text>
<text x="252.5" y="126.9" text-anchor="end">0.6</text>
<text x="356.6" y="1422.5" text-anchor="middle">-20,000</text>
<text x="730.6" y="1422.5" text-anchor="middle">-10,000</text>
<text x="1105.3" y="1422.5" text-anchor="middle">0</text>
<text x="1481.4" y="1422.5" text-anchor="middle">10,000</text>
<text x="1854.8" y="1422.5" text-anchor="middle">20,000</text>
<text x="1001.3" y="1528">H (Oe)</text>
<text transform="translate(85.6,916) rotate(-90)">M (emu/cm<tspan font-size="39" dy="-40">3</tspan><tspan dy="40">)</tspan></text>
</g>
<rect x="1132.3" y="945.7" width="130.3" height="2.6" fill="#606060"/>
<rect x="1186.7" y="937.7" width="19" height="19" fill="#000"/>
<text x="1277" y="966.5" font-family="'Liberation Sans', Arial, sans-serif" font-size="57.5" stroke="#fff" stroke-width="1">Concentration 8 mg/ml</text>
<rect x="1132.3" y="1016.7" width="130.3" height="2.6" fill="#8b1e1e"/>
<circle cx="1197.2" cy="1018" r="9.6" fill="#fff" stroke="#b03030" stroke-width="1.3"/>
<text x="1277" y="1037.3" font-family="'Liberation Sans', Arial, sans-serif" font-size="57.5" stroke="#fff" stroke-width="1">Concentration 16 mg/ml</text>
<rect x="1132.3" y="1087.2" width="130.3" height="2.6" fill="#000068"/>
<path d="M1184.5,1082.0h26l-13,20z" fill="#fff" stroke="#2a2ab0" stroke-width="1.3"/>
<text x="1277" y="1108" font-family="'Liberation Sans', Arial, sans-serif" font-size="57.5" stroke="#fff" stroke-width="1">Concentration 32 mg/ml</text>
</svg></body></html>
